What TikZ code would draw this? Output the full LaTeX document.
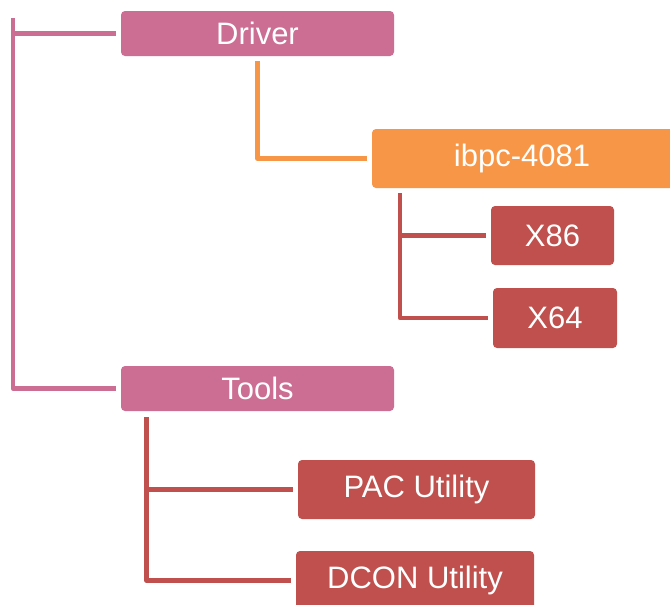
\documentclass[tikz,border=0pt]{standalone}
\usepackage{fontspec}
\setmainfont{Liberation Sans}
\usetikzlibrary{calc}
\definecolor{cpink}{HTML}{CC6E93}
\definecolor{corange}{HTML}{F79646}
\definecolor{cred}{HTML}{C0504D}
\begin{document}
\begin{tikzpicture}[x=1pt,y=-1pt,
  box/.style={rectangle, rounded corners=4pt, inner sep=0pt, text=white,
    font=\fontsize{31}{36}\selectfont},
  conn/.style={line width=4.6pt, line join=round}]
\clip (0,0) rectangle (670,605);
\fill[white] (0,0) rectangle (670,605);
% nodes
\node[box, fill=cpink, minimum width=273pt, minimum height=45pt] (driver) at (257.5,33.5) {Driver};
\node[box, fill=corange, minimum width=306pt, minimum height=59pt] (ibpc) at (525,158.5) {};
\node[text=white, font=\fontsize{31}{36}\selectfont, inner sep=0pt] (ibpct) at (522,158.5) {ibpc-4081};
\node[box, fill=cred, minimum width=123pt, minimum height=59pt] (x86) at (552.5,235.5) {X86};
\node[box, fill=cred, minimum width=124pt, minimum height=60pt] (x64) at (555,318) {X64};
\node[box, fill=cpink, minimum width=273pt, minimum height=45pt] (tools) at (257.5,388.5) {Tools};
\node[box, fill=cred, minimum width=237pt, minimum height=59pt] (pac) at (416.5,489.5) {PAC Utility};
\node[box, fill=cred, minimum width=238pt, minimum height=59pt] (dcon) at (415,580.5) {DCON Utility};
% connectors
\coordinate (ptop) at (13,18);
\draw[conn, cpink] (ptop) -- (ptop |- tools.west) -- ([xshift=-5pt]tools.west);
\draw[conn, cpink] (ptop |- driver.west) -- ([xshift=-5pt]driver.west);
\draw[conn, corange] ([yshift=-5pt]driver.south) |- ([xshift=-5pt]ibpc.west);
\coordinate (ctop) at (400,193);
\draw[conn, cred] (ctop) |- ([xshift=-5pt]x64.west);
\draw[conn, cred] (ctop |- x86.west) -- ([xshift=-5pt]x86.west);
\coordinate (ttop) at (146.5,417);
\draw[conn, cred] (ttop) |- ([xshift=-5pt]dcon.west);
\draw[conn, cred] (ttop |- pac.west) -- ([xshift=-5pt]pac.west);
\end{tikzpicture}
\end{document}
